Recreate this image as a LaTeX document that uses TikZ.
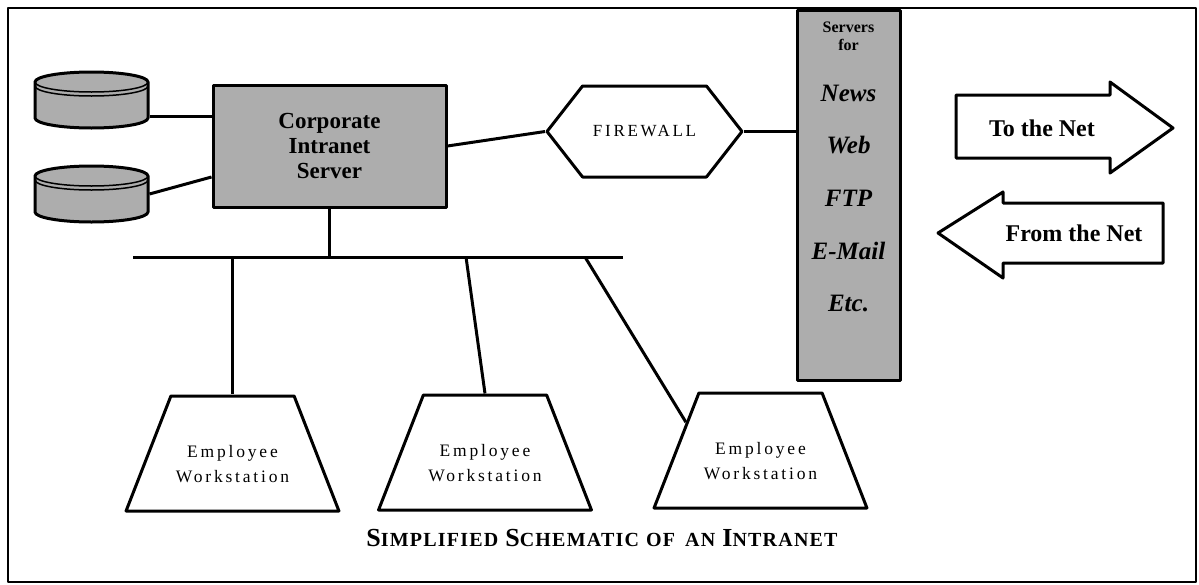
\documentclass[tikz,border=0pt]{standalone}
\usepackage{fontspec}
\setmainfont{Liberation Serif}
\newfontfamily\spacedfont[LetterSpace=16]{Liberation Serif}
\newfontfamily\titlefont[LetterSpace=6]{Liberation Serif}
\usetikzlibrary{shapes.geometric,shapes.symbols,positioning,calc}

\newcommand\fakesc[2]{{\fontsize{26}{28}\selectfont #1}{\fontsize{20}{28}\selectfont #2}}

\begin{document}
\begin{tikzpicture}[x=1pt,y=-1pt,line width=3pt,line join=round,
                    font=\fontsize{17}{25}\selectfont]
  \tikzstyle{hatched}=[draw,fill=black!32,inner sep=0pt]
  \tikzstyle{disk}=[inner sep=0pt,minimum width=113pt,minimum height=56pt]
  \tikzstyle{station}=[draw,fill=white,trapezium,trapezium angle=70,
                       trapezium stretches=true,minimum width=213pt,
                       minimum height=115pt,inner sep=2pt]
  \tikzstyle{stationtext}=[align=center,font=\spacedfont\fontsize{17.5}{25}\selectfont]
  \tikzstyle{svtext}=[font=\bfseries\itshape\fontsize{25}{28}\selectfont]
  \tikzstyle{nettext}=[font=\bfseries\fontsize{24}{26}\selectfont]

  \useasboundingbox (0,0) rectangle (1199,584);
  \draw[line width=2pt] (8,8) rectangle (1196,582);

  % storage and main server
  \node[disk]          (db1) at (91.5,100) {};
  \node[disk]          (db2) at (91.5,194) {};
  \foreach \db in {db1,db2} {
    \begin{scope}[shift={(\db.center)}]
      \draw[hatched] (-56.5,-18) -- (-56.5,18)
        arc[start angle=180,end angle=0,x radius=56.5,y radius=10]
        -- (56.5,-18) arc[start angle=0,end angle=-180,x radius=56.5,y radius=10]
        -- cycle;
      \draw[line width=1.5pt] (-56.5,-18) arc[start angle=180,end angle=0,x radius=56.5,y radius=10];
      \draw[line width=1.5pt] (-56.5,-14) arc[start angle=180,end angle=0,x radius=56.5,y radius=10];
    \end{scope}
  }
  \node[hatched,minimum width=233pt,minimum height=122pt,align=center,
        font=\bfseries\fontsize{23}{25}\selectfont] (srv) at (329.5,146)
        {Corporate\\Intranet\\Server};

  \draw ([yshift=-16pt]db1.east) -- ([yshift=-16pt]db1.east -| srv.west);
  \draw (db2.east) -- ([yshift=-31pt]srv.west);

  % firewall and outside servers
  \node[draw,signal,signal to=west and east,signal pointer angle=104,
        minimum width=195pt,minimum height=91pt,inner sep=0pt,
        font=\spacedfont\fontsize{17}{20}\selectfont] (fw) at (644.5,131.5) {FIREWALL};
  \node[hatched,minimum width=103pt,minimum height=370pt] (svc) at (848.5,195) {};
  \node[align=center,font=\bfseries\fontsize{16}{18}\selectfont] (svfor) at (848.5,36) {Servers\\for};
  \foreach \svc [count=\i] in {News,Web,FTP,E-Mail,Etc.}
    \node[svtext] (sv\i) at (848.5,{93+52.5*(\i-1)}) {\svc};

  \draw (srv.east) -- (fw.west);
  \draw (fw.east) -- (fw.east -| svc.west);

  % traffic arrows
  \draw (956,95) -- (1110,95) -- (1110,82) -- (1173,128) -- (1110,173)
        -- (1110,158) -- (956,158) -- cycle;
  \node[nettext] (tonet) at (1042,128) {To the Net};
  \draw (1163,203) -- (1003,203) -- (1003,192) -- (938,233) -- (1003,278)
        -- (1003,263) -- (1163,263) -- cycle;
  \node[nettext] (fromnet) at (1074,233) {From the Net};

  % LAN bus and workstations
  \coordinate (busL) at (133,257);
  \coordinate (busR) at (623,257);
  \coordinate (tap2) at (466,257);
  \coordinate (tap3) at (585,257);
  \draw (busL) -- (busR);
  \draw (srv.south) -- (srv.south |- busL);

  \node[station] (ws1) at (232.5,453.5) {};
  \node[station] (ws2) at (485,452.5) {};
  \node[station] (ws3) at (760.5,450.5) {};
  \foreach \ws in {ws1,ws2,ws3}
    \node[stationtext] (\ws t) at ($(\ws.center)+(0,11)$) {Employee\\Workstation};

  \draw (ws1.north |- busL) -- (ws1.north);
  \draw (tap2) -- (ws2.north);
  \draw (tap3) -- ($(ws3.top left corner)!0.26!(ws3.bottom left corner)$);

  \node[font=\titlefont\bfseries] (title) at (602,538)
    {\fakesc{S}{IMPLIFIED}\hspace{4pt} \fakesc{S}{CHEMATIC}\hspace{4pt} {\fontsize{20}{28}\selectfont OF\hspace{4pt} AN}\hspace{4pt} \fakesc{I}{NTRANET}};
\end{tikzpicture}
\end{document}
